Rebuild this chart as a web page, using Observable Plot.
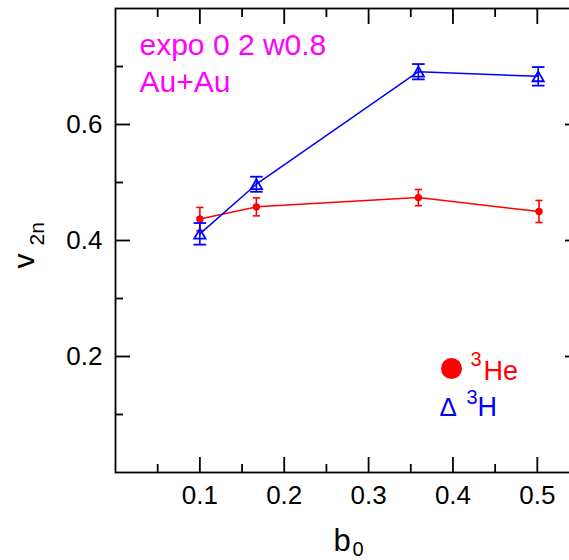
<!DOCTYPE html>
<html><head><meta charset="utf-8">
<script src="https://cdn.jsdelivr.net/npm/d3@7"></script>
<script src="https://cdn.jsdelivr.net/npm/@observablehq/plot@0.6"></script>
<style>body{margin:0;background:#fff;}#chart svg{display:block;}</style>
</head><body><div id="chart"></div>
<script>
// ³He (red filled circles)
const b0He = [0.1, 0.167, 0.359, 0.502];
const v2He = [0.437, 0.458, 0.474, 0.450];
const errHe = [0.020, 0.0155, 0.014, 0.019];
// ³H (blue open triangles)
const b0H = [0.1, 0.167, 0.359, 0.501];
const v2H = [0.4115, 0.497, 0.691, 0.683];
const errH = [0.0186, 0.013, 0.0132, 0.016];
// ticks
const xMajor = [0.1, 0.2, 0.3, 0.4, 0.5];
const xMinor = [0.05, 0.15, 0.25, 0.35, 0.45];
const yMajor = [0.2, 0.4, 0.6];
const yMinor = [0.1, 0.3, 0.5, 0.7];
// texts
const titleLines = ["expo 0 2 w0.8", "Au+Au"];

const he = b0He.map((b, i) => ({b, v: v2He[i], e: errHe[i]}));
const h = b0H.map((b, i) => ({b, v: v2H[i], e: errH[i]}));

const RED = "#ff0000", BLUE = "#0000ff", MAG = "#ff00ff";
const cap = {draw(ctx, size) { const w = Math.sqrt(size / Math.PI); ctx.moveTo(-w, 0); ctx.lineTo(w, 0); }};
const fmt = d3.format(".1f");

const tickOpts = {label: null, fill: "none", stroke: "black", strokeWidth: 1.8};

const chart = Plot.plot({
  width: 569,
  height: 560,
  marginLeft: 115,
  marginRight: -10,
  marginTop: 8,
  marginBottom: 88,
  style: {fontFamily: "'Liberation Sans', Arial, Helvetica, sans-serif", fontSize: "26px", background: "white", color: "black"},
  x: {domain: [0, 0.55], axis: null},
  y: {domain: [0, 0.8], axis: null},
  marks: [
    // inward ticks on all four sides
    Plot.axisX(xMajor, {...tickOpts, anchor: "bottom", tickSize: -15}),
    Plot.axisX(xMinor, {...tickOpts, anchor: "bottom", tickSize: -8}),
    Plot.axisX(xMajor, {...tickOpts, anchor: "top", tickSize: -15}),
    Plot.axisX(xMinor, {...tickOpts, anchor: "top", tickSize: -8}),
    Plot.axisY(yMajor, {...tickOpts, anchor: "left", tickSize: -15}),
    Plot.axisY(yMinor, {...tickOpts, anchor: "left", tickSize: -8}),
    Plot.axisY(yMajor, {...tickOpts, anchor: "right", tickSize: -15}),
    Plot.axisY(yMinor, {...tickOpts, anchor: "right", tickSize: -8}),
    // tick labels
    Plot.axisX(xMajor, {anchor: "bottom", tickSize: 0, tickPadding: 13, label: null, fill: "black", fontSize: 26, tickFormat: fmt}),
    Plot.axisY(yMajor, {anchor: "left", tickSize: 0, tickPadding: 13, label: null, fill: "black", fontSize: 26, tickFormat: fmt}),
    Plot.frame({stroke: "black", strokeWidth: 1.8}),
    // ³He
    Plot.line(he, {x: "b", y: "v", stroke: RED, strokeWidth: 1.5}),
    Plot.ruleX(he, {x: "b", y1: d => d.v - d.e, y2: d => d.v + d.e, stroke: RED, strokeWidth: 1.6}),
    Plot.dot(he, {x: "b", y: d => d.v + d.e, symbol: cap, r: 3.6, fill: "none", stroke: RED, strokeWidth: 1.6}),
    Plot.dot(he, {x: "b", y: d => d.v - d.e, symbol: cap, r: 3.6, fill: "none", stroke: RED, strokeWidth: 1.6}),
    Plot.dot(he, {x: "b", y: "v", r: 3.7, fill: RED, stroke: "none"}),
    // ³H
    Plot.line(h, {x: "b", y: "v", stroke: BLUE, strokeWidth: 1.5}),
    Plot.ruleX(h, {x: "b", y1: d => d.v - d.e, y2: d => d.v + d.e, stroke: BLUE, strokeWidth: 1.6}),
    Plot.dot(h, {x: "b", y: d => d.v + d.e, symbol: cap, r: 6.3, fill: "none", stroke: BLUE, strokeWidth: 1.8}),
    Plot.dot(h, {x: "b", y: d => d.v - d.e, symbol: cap, r: 6.3, fill: "none", stroke: BLUE, strokeWidth: 1.8}),
    Plot.dot(h, {x: "b", y: "v", symbol: "triangle", r: 4.2, dy: 1.6, fill: "none", stroke: BLUE, strokeWidth: 1.8}),
    // annotation
    Plot.text([titleLines[0]], {frameAnchor: "top-left", dx: 24, dy: 46, textAnchor: "start", lineAnchor: "bottom", fill: MAG, fontSize: 30}),
    Plot.text([titleLines[1]], {frameAnchor: "top-left", dx: 24, dy: 83, textAnchor: "start", lineAnchor: "bottom", fill: MAG, fontSize: 30}),
    // legend
    Plot.dot([0], {frameAnchor: "top-left", dx: 336, dy: 360, r: 10.5, fill: RED, stroke: "none"}),
    Plot.text(["3"], {frameAnchor: "top-left", dx: 355, dy: 357, textAnchor: "start", lineAnchor: "bottom", fill: RED, fontSize: 20}),
    Plot.text(["He"], {frameAnchor: "top-left", dx: 368, dy: 371, textAnchor: "start", lineAnchor: "bottom", fill: RED, fontSize: 27}),
    Plot.text(["Δ"], {frameAnchor: "top-left", dx: 324, dy: 407, textAnchor: "start", lineAnchor: "bottom", fill: BLUE, fontSize: 26}),
    Plot.text(["3"], {frameAnchor: "top-left", dx: 351, dy: 395, textAnchor: "start", lineAnchor: "bottom", fill: BLUE, fontSize: 20}),
    Plot.text(["H"], {frameAnchor: "top-left", dx: 362, dy: 407, textAnchor: "start", lineAnchor: "bottom", fill: BLUE, fontSize: 27}),
    // axis titles
    Plot.text(["b"], {frameAnchor: "bottom-left", dx: 218, dy: 78, textAnchor: "start", lineAnchor: "bottom", fill: "black", fontSize: 31}),
    Plot.text(["0"], {frameAnchor: "bottom-left", dx: 237, dy: 83, textAnchor: "start", lineAnchor: "bottom", fill: "black", fontSize: 20}),
    Plot.text(["v"], {frameAnchor: "left", dx: -82, dy: 28, rotate: -90, textAnchor: "start", lineAnchor: "bottom", fill: "black", fontSize: 30}),
    Plot.text(["2n"], {frameAnchor: "left", dx: -72, dy: 5, rotate: -90, textAnchor: "start", lineAnchor: "bottom", fill: "black", fontSize: 21})
  ]
});
document.getElementById("chart").appendChild(chart);
</script>
</body></html>
